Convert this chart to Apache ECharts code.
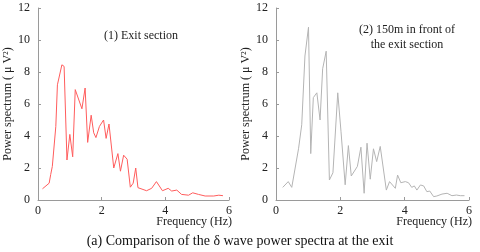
<!DOCTYPE html>
<html><head><meta charset="utf-8">
<script src="https://cdn.jsdelivr.net/npm/echarts@6/dist/echarts.min.js"></script>
<style>html,body{margin:0;padding:0;background:#fff}#c{width:480px;height:252px}</style>
</head><body><div id="c"></div>
<script>
var freq1 = [0.14,0.35,0.40,0.45,0.56,0.61,0.75,0.82,0.91,1.00,1.09,1.17,1.38,1.48,1.56,1.67,1.75,1.82,1.93,2.06,2.14,2.23,2.38,2.51,2.59,2.69,2.80,2.90,2.99,3.07,3.14,3.41,3.57,3.72,3.91,4.09,4.20,4.36,4.51,4.73,4.86,5.04,5.25,5.52,5.68,5.81];
var power1 = [0.7,1.05,1.6,2.1,4.6,7.2,8.45,8.35,2.5,4.1,2.7,6.9,5.7,7.0,3.6,5.3,4.2,3.9,4.6,5.0,3.85,4.75,2.0,2.9,1.8,2.8,2.55,0.8,1.05,2.0,0.77,0.58,0.73,1.15,0.58,0.73,0.56,0.62,0.35,0.3,0.45,0.35,0.25,0.25,0.3,0.27];
var freq2 = [0.21,0.38,0.49,0.70,0.80,0.90,1.01,1.08,1.16,1.27,1.37,1.45,1.56,1.66,1.77,1.92,2.02,2.15,2.25,2.34,2.53,2.64,2.74,2.83,2.93,3.03,3.13,3.24,3.43,3.53,3.71,3.78,3.88,4.02,4.12,4.22,4.30,4.38,4.49,4.59,4.69,4.78,4.90,5.00,5.16,5.32,5.47,5.61,5.73,5.86];
var power2 = [0.79,1.15,0.79,3.2,4.7,9.0,10.8,2.9,6.4,6.7,5.0,8.2,9.3,1.25,1.7,6.7,4.3,0.95,3.4,1.5,2.1,3.3,0.42,3.55,1.3,3.2,2.4,3.35,0.62,1.15,0.73,1.56,1.08,1.15,1.08,0.79,0.88,0.62,0.94,0.88,0.52,0.56,0.21,0.25,0.37,0.42,0.27,0.31,0.27,0.27];
var xTicks = [0,2,4,6];
var yTicks = [0,2,4,6,8,10,12];
var yName = 'Power spectrum ( \u03bc V\u00b2)';
var xName = 'Frequency (Hz)';
var title1 = '(1) Exit section';
var title2 = '(2) 150m in front of\nthe exit section';
var caption = '(a) Comparison of the \u03b4 wave power spectra at the exit';

function pair(f,p){return f.map(function(v,i){return [v,p[i]];});}
var font = 'Liberation Serif, Times New Roman, serif';
var axisCol = '#9a9a9a';
function xAx(gi){return {gridIndex:gi,type:'value',min:0,max:6,interval:2,
  axisLine:{show:true,lineStyle:{color:axisCol}},axisTick:{show:true,inside:true,length:3,lineStyle:{color:axisCol}},
  splitLine:{show:false},axisLabel:{color:'#222',fontFamily:font,fontSize:12,margin:5}};}
function yAx(gi){return {gridIndex:gi,type:'value',min:0,max:12,interval:2,
  name:yName,nameLocation:'middle',nameRotate:90,nameGap:21,nameTextStyle:{color:'#222',fontFamily:font,fontSize:12},
  axisLine:{show:true,lineStyle:{color:axisCol}},axisTick:{show:true,inside:true,length:3,lineStyle:{color:axisCol}},
  splitLine:{show:false},axisLabel:{color:'#222',fontFamily:font,fontSize:12,margin:8}};}
var chart = echarts.init(document.getElementById('c'),null,{renderer:'canvas'});
chart.setOption({
  animation:false,
  grid:[{left:38,right:251,top:8,bottom:52},{left:276,right:11,top:8,bottom:52}],
  xAxis:[xAx(0),xAx(1)],
  yAxis:[yAx(0),yAx(1)],
  series:[
    {type:'line',xAxisIndex:0,yAxisIndex:0,data:pair(freq1,power1),showSymbol:false,lineStyle:{color:'#ff5c5c',width:1},itemStyle:{color:'#ff5c5c'}},
    {type:'line',xAxisIndex:1,yAxisIndex:1,data:pair(freq2,power2),showSymbol:false,lineStyle:{color:'#b4b4b4',width:1},itemStyle:{color:'#b4b4b4'}}
  ],
  graphic:[
    {type:'text',x:141,y:36,style:{text:title1,fill:'#222',font:'12px '+font,textAlign:'center',textVerticalAlign:'middle'}},
    {type:'text',x:407,y:37,style:{text:title2,fill:'#222',font:'12px '+font,textAlign:'center',textVerticalAlign:'middle',lineHeight:15}},
    {type:'text',x:232,y:222,style:{text:xName,fill:'#222',font:'12px '+font,textAlign:'right',textVerticalAlign:'middle'}},
    {type:'text',x:472,y:222,style:{text:xName,fill:'#222',font:'12px '+font,textAlign:'right',textVerticalAlign:'middle'}},
    {type:'text',x:240,y:241,style:{text:caption,fill:'#111',font:'14px '+font,textAlign:'center',textVerticalAlign:'middle'}}
  ]
});
</script></body></html>
